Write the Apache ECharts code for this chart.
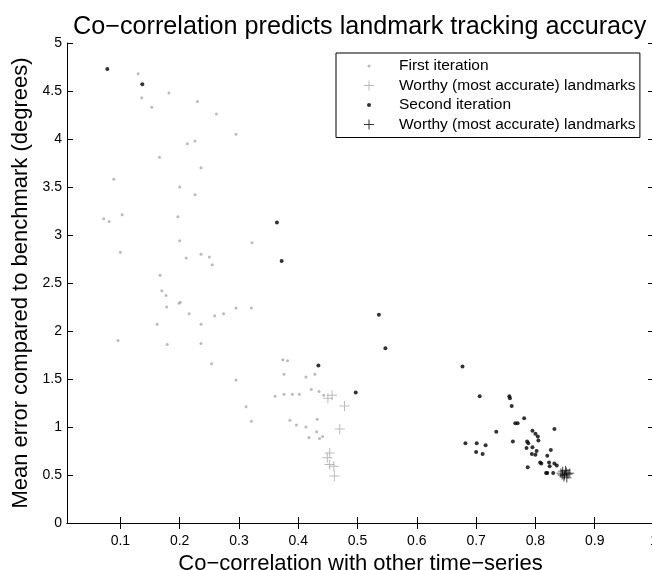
<!DOCTYPE html>
<html>
<head>
<meta charset="utf-8">
<script src="https://cdn.jsdelivr.net/npm/echarts@6/dist/echarts.min.js"></script>
<style>
html, body { margin: 0; padding: 0; background: #fff; }
#chart { width: 652px; height: 570px; }
</style>
</head>
<body>
<div id="chart"></div>
<script>
// values: [co-correlation, mean error (deg)]
var firstIteration = [
    [0.130, 4.68], [0.182, 4.48], [0.136, 4.43], [0.230, 4.39], [0.153, 4.33],
    [0.262, 4.26], [0.295, 4.05], [0.226, 3.98], [0.213, 3.95], [0.166, 3.81],
    [0.236, 3.70], [0.089, 3.58], [0.200, 3.50], [0.226, 3.42], [0.103, 3.21],
    [0.072, 3.17], [0.081, 3.14], [0.197, 3.19], [0.200, 2.94], [0.322, 2.92],
    [0.100, 2.82], [0.236, 2.80], [0.250, 2.77], [0.211, 2.76], [0.255, 2.69],
    [0.167, 2.58], [0.170, 2.42], [0.177, 2.37], [0.201, 2.30], [0.199, 2.29],
    [0.178, 2.25], [0.216, 2.18], [0.295, 2.24], [0.321, 2.24], [0.259, 2.16],
    [0.274, 2.18], [0.162, 2.07], [0.236, 2.07], [0.096, 1.90], [0.179, 1.86],
    [0.236, 1.87], [0.254, 1.66], [0.295, 1.49], [0.312, 1.21], [0.321, 1.06],
    [0.374, 1.70], [0.382, 1.69], [0.376, 1.55], [0.413, 1.52], [0.428, 1.55],
    [0.361, 1.32], [0.376, 1.34], [0.390, 1.34], [0.402, 1.34], [0.422, 1.39],
    [0.435, 1.37], [0.443, 1.33], [0.386, 1.07], [0.397, 1.02], [0.413, 1.00],
    [0.432, 1.08], [0.431, 0.95], [0.418, 0.89], [0.436, 0.88], [0.441, 0.90]
];
var firstWorthy = [
    [0.450, 1.30], [0.457, 1.33], [0.478, 1.22], [0.470, 0.98], [0.453, 0.73],
    [0.449, 0.68], [0.453, 0.61], [0.460, 0.59], [0.461, 0.49]
];
var secondIteration = [
    [0.078, 4.73], [0.137, 4.57], [0.364, 3.13], [0.372, 2.73], [0.434, 1.64],
    [0.497, 1.36], [0.536, 2.17], [0.547, 1.82], [0.677, 1.63], [0.706, 1.32],
    [0.756, 1.32], [0.757, 1.30], [0.760, 1.22], [0.781, 1.09], [0.766, 1.04],
    [0.770, 1.04], [0.734, 0.95], [0.682, 0.83], [0.701, 0.83], [0.716, 0.81],
    [0.700, 0.74], [0.711, 0.72], [0.762, 0.85], [0.786, 0.85], [0.788, 0.83],
    [0.785, 0.78], [0.787, 0.58], [0.832, 0.98], [0.795, 0.96], [0.800, 0.93],
    [0.804, 0.90], [0.805, 0.86], [0.795, 0.79], [0.826, 0.76], [0.794, 0.72],
    [0.802, 0.75], [0.800, 0.71], [0.820, 0.70], [0.808, 0.63], [0.810, 0.62],
    [0.823, 0.63], [0.824, 0.59], [0.832, 0.62], [0.836, 0.60], [0.818, 0.52],
    [0.820, 0.52], [0.830, 0.52]
];
var secondWorthy = [
    [0.843, 0.52], [0.846, 0.54], [0.849, 0.50], [0.852, 0.53], [0.855, 0.51],
    [0.848, 0.48], [0.858, 0.52], [0.845, 0.50], [0.851, 0.55], [0.853, 0.47]
];
var xTickValues = [0.1, 0.2, 0.3, 0.4, 0.5, 0.6, 0.7, 0.8, 0.9, 1];

var seriesNames = ['First iteration', 'Worthy (most accurate) landmarks',
    'Second iteration', 'Worthy (most accurate) landmarks '];

var FONT = 'Liberation Sans, Arial, Helvetica, sans-serif';
var PLUS = 'path://M4.5,0h1v4.5h4.5v1h-4.5v4.5h-1v-4.5h-4.5v-1h4.5z';
// corner move-tos keep the dot small inside the 10x10 legend icon box
var DOT_S = 'path://M0,0M10,10M3.5,5a1.5,1.5 0 1,0 3,0a1.5,1.5 0 1,0 -3,0z';
var DOT_L = 'path://M0,0M10,10M3,5a2,2 0 1,0 4,0a2,2 0 1,0 -4,0z';

var chart = echarts.init(document.getElementById('chart'));

var boxAxisLine = { show: true, lineStyle: { color: '#000', width: 1 } };
var insideTick = { show: true, inside: true, length: 6, lineStyle: { color: '#000' } };

var option = {
    animation: false,
    title: {
        text: 'Co\u2212correlation predicts landmark tracking accuracy',
        left: 73,
        top: 15,
        padding: 0,
        textStyle: { fontFamily: FONT, fontSize: 25.2, fontWeight: 'normal', color: '#000' }
    },
    legend: {
        orient: 'vertical',
        left: 336,
        top: 53,
        padding: [5, 0, 5, 28],
        itemWidth: 50,
        itemHeight: 10,
        itemGap: 3.5,
        selectedMode: false,
        borderColor: '#000',
        borderWidth: 1,
        borderRadius: 0,
        backgroundColor: '#fff',
        textStyle: { fontFamily: FONT, fontSize: 15.5, color: '#000', lineHeight: 16 },
        data: [
            { name: seriesNames[0], icon: DOT_S },
            { name: seriesNames[1], icon: PLUS },
            { name: seriesNames[2], icon: DOT_L },
            { name: seriesNames[3], icon: PLUS }
        ]
    },
    grid: { left: 67, right: -2, top: 43, bottom: 47, outerBoundsMode: 'none', containLabel: false },
    xAxis: [{
        type: 'value',
        position: 'bottom',
        min: 0.01,
        max: 1,
        name: 'Co\u2212correlation with other time\u2212series',
        nameLocation: 'middle',
        nameGap: 26,
        nameTextStyle: { fontFamily: FONT, fontSize: 22, color: '#000' },
        axisLine: boxAxisLine,
        axisTick: Object.assign({ customValues: xTickValues }, insideTick),
        axisLabel: { customValues: xTickValues, margin: 11, fontFamily: FONT, fontSize: 14, color: '#000' },
        splitLine: { show: false }
    }, {
        type: 'value',
        position: 'top',
        min: 0.01,
        max: 1,
        axisLine: boxAxisLine,
        axisTick: Object.assign({ customValues: xTickValues }, insideTick),
        axisLabel: { show: false },
        splitLine: { show: false }
    }],
    yAxis: [{
        type: 'value',
        position: 'left',
        min: 0,
        max: 5,
        interval: 0.5,
        name: 'Mean error compared to benchmark (degrees)',
        nameLocation: 'middle',
        nameGap: 34,
        nameTextStyle: { fontFamily: FONT, fontSize: 22, color: '#000' },
        axisLine: boxAxisLine,
        axisTick: insideTick,
        axisLabel: { margin: 5, fontFamily: FONT, fontSize: 14, color: '#000' },
        splitLine: { show: false }
    }, {
        type: 'value',
        position: 'right',
        min: 0,
        max: 5,
        interval: 0.5,
        axisLine: boxAxisLine,
        axisTick: insideTick,
        axisLabel: { show: false },
        splitLine: { show: false }
    }],
    series: [{
        name: seriesNames[0],
        type: 'scatter',
        symbol: 'circle',
        symbolSize: 3,
        itemStyle: { color: '#a9a9a9' },
        data: firstIteration
    }, {
        name: seriesNames[1],
        type: 'scatter',
        symbol: PLUS,
        symbolSize: 10,
        itemStyle: { color: '#a9a9a9' },
        data: firstWorthy
    }, {
        name: seriesNames[2],
        type: 'scatter',
        symbol: 'circle',
        symbolSize: 4,
        itemStyle: { color: '#000' },
        data: secondIteration
    }, {
        name: seriesNames[3],
        type: 'scatter',
        symbol: PLUS,
        symbolSize: 9,
        itemStyle: { color: '#000' },
        data: secondWorthy
    }]
};

chart.setOption(option);
</script>
</body>
</html>
